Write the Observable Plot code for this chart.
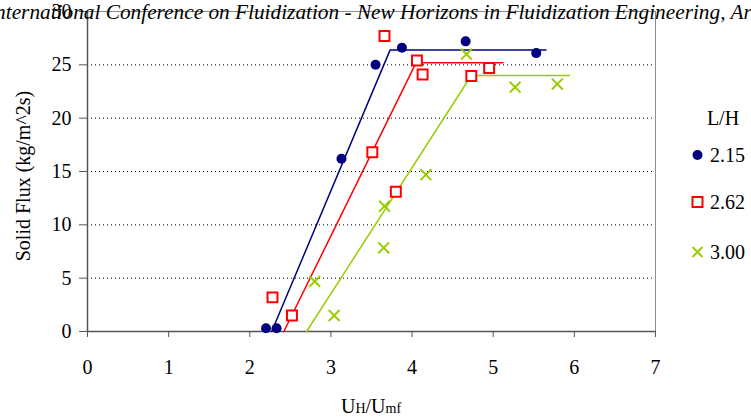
<!DOCTYPE html>
<html>
<head>
<meta charset="utf-8">
<script src="https://cdn.jsdelivr.net/npm/d3@7"></script>
<script src="https://cdn.jsdelivr.net/npm/@observablehq/plot@0.6"></script>
<style>
  body { margin:0; background:white; width:751px; height:419px; overflow:hidden; position:relative; }
  #title { position:absolute; left:-12px; top:0px; font: italic 21.3px "Liberation Serif"; white-space:nowrap; color:black; }
</style>
</head>
<body>
<div id="chart"></div>
<div id="title">International Conference on Fluidization - New Horizons in Fluidization Engineering, Art.</div>
<script>
// Series: L/H = 2.15
const s215X = [2.20, 2.33, 3.13, 3.55, 3.875, 4.66, 5.53];
const s215Y = [0.3, 0.3, 16.2, 25.0, 26.6, 27.2, 26.1];
const fit215X = [2.27, 3.73, 5.65];
const fit215Y = [0, 26.4, 26.4];
// Series: L/H = 2.62
const s262X = [2.28, 2.52, 3.51, 3.80, 3.66, 4.06, 4.13, 4.73, 4.95];
const s262Y = [3.2, 1.5, 16.8, 13.1, 27.7, 25.4, 24.1, 23.95, 24.7];
const fit262X = [2.42, 4.05, 5.12];
const fit262Y = [0, 25.2, 25.2];
// Series: L/H = 3.00
const s300X = [2.80, 3.04, 3.65, 3.66, 4.17, 4.67, 5.27, 5.79];
const s300Y = [4.7, 1.5, 7.85, 11.75, 14.7, 26.0, 22.9, 23.2];
const fit300X = [2.70, 4.73, 5.94];
const fit300Y = [0, 24.0, 24.0];

const categories = ["2.15", "2.62", "3.00"];
const colors = ["#000080", "#FF0000", "#99CC00"];
const xTicks = [0, 1, 2, 3, 4, 5, 6, 7];
const yTicks = [0, 5, 10, 15, 20, 25, 30];
const gridTicks = [5, 10, 15, 20, 25];

const pts = (xs, ys) => xs.map((x, i) => ({x, y: ys[i]}));
const d215 = pts(s215X, s215Y), d262 = pts(s262X, s262Y), d300 = pts(s300X, s300Y);
const f215 = pts(fit215X, fit215Y), f262 = pts(fit262X, fit262Y), f300 = pts(fit300X, fit300Y);

const chart = Plot.plot({
  width: 751, height: 419,
  marginLeft: 87, marginRight: 96, marginTop: 11, marginBottom: 88,
  x: {domain: [0, 7]},
  y: {domain: [0, 30]},
  style: {fontFamily: "Liberation Serif", fontSize: "20px", color: "black", background: "white", overflow: "visible"},
  marks: [
    Plot.gridY(gridTicks, {stroke: "black", strokeOpacity: 1, strokeDasharray: "1,3"}),
    Plot.frame({stroke: "#8a8a8a"}),
    Plot.axisX(xTicks, {tickSize: 6, tickPadding: 22, label: null, stroke: "#555", tickFormat: d => String(d)}),
    Plot.axisY(yTicks, {tickSize: 8, tickPadding: 8, label: null, stroke: "#555", tickFormat: d => String(d)}),
    Plot.ruleX([0], {stroke: "#555", strokeWidth: 1.5}),
    Plot.ruleY([0], {stroke: "#555", strokeWidth: 1.5}),
    Plot.line(f215, {x: "x", y: "y", stroke: colors[0], strokeWidth: 1.5}),
    Plot.line(f262, {x: "x", y: "y", stroke: colors[1], strokeWidth: 1.5}),
    Plot.line(f300, {x: "x", y: "y", stroke: colors[2], strokeWidth: 1.5}),
    Plot.dot(d215, {x: "x", y: "y", r: 5, fill: colors[0], stroke: "none", symbol: "circle"}),
    Plot.dot(d262, {x: "x", y: "y", r: 5.6, stroke: colors[1], strokeWidth: 2, fill: "white", symbol: "square"}),
    Plot.dot(d300, {x: "x", y: "y", r: 5, stroke: colors[2], strokeWidth: 2, symbol: "times"})
  ]
});
document.getElementById("chart").appendChild(chart);

const svg = d3.select(chart);
// Y axis label
svg.append("text")
  .attr("transform", "translate(30,176) rotate(-90)")
  .attr("text-anchor", "middle")
  .attr("font-family", "Liberation Serif").attr("font-size", 20)
  .text("Solid Flux (kg/m^2s)");
// X axis label
const xl = svg.append("text")
  .attr("x", 371).attr("y", 413)
  .attr("text-anchor", "middle")
  .attr("font-family", "Liberation Serif").attr("font-size", 20);
xl.append("tspan").text("U");
xl.append("tspan").attr("font-size", 14).text("H");
xl.append("tspan").text("/U");
xl.append("tspan").attr("font-size", 14).text("mf");

// Legend
const lg = svg.append("g").attr("font-family", "Liberation Serif").attr("font-size", 20);
lg.append("text").attr("x", 723).attr("y", 125).attr("text-anchor", "middle").text("L/H");
const ly = [155, 202, 252];
categories.forEach((c, i) => {
  const y = ly[i];
  if (i === 0) lg.append("circle").attr("cx", 697.5).attr("cy", y).attr("r", 5).attr("fill", colors[0]);
  if (i === 1) lg.append("rect").attr("x", 692.5).attr("y", y - 5).attr("width", 10).attr("height", 10)
      .attr("fill", "white").attr("stroke", colors[1]).attr("stroke-width", 2);
  if (i === 2) lg.append("path").attr("d", `M${692.5},${y-5}L${702.5},${y+5}M${692.5},${y+5}L${702.5},${y-5}`)
      .attr("stroke", colors[2]).attr("stroke-width", 2);
  lg.append("text").attr("x", 710).attr("y", y).attr("dy", "0.35em").attr("text-anchor", "start").text(c);
});
</script>
</body>
</html>
